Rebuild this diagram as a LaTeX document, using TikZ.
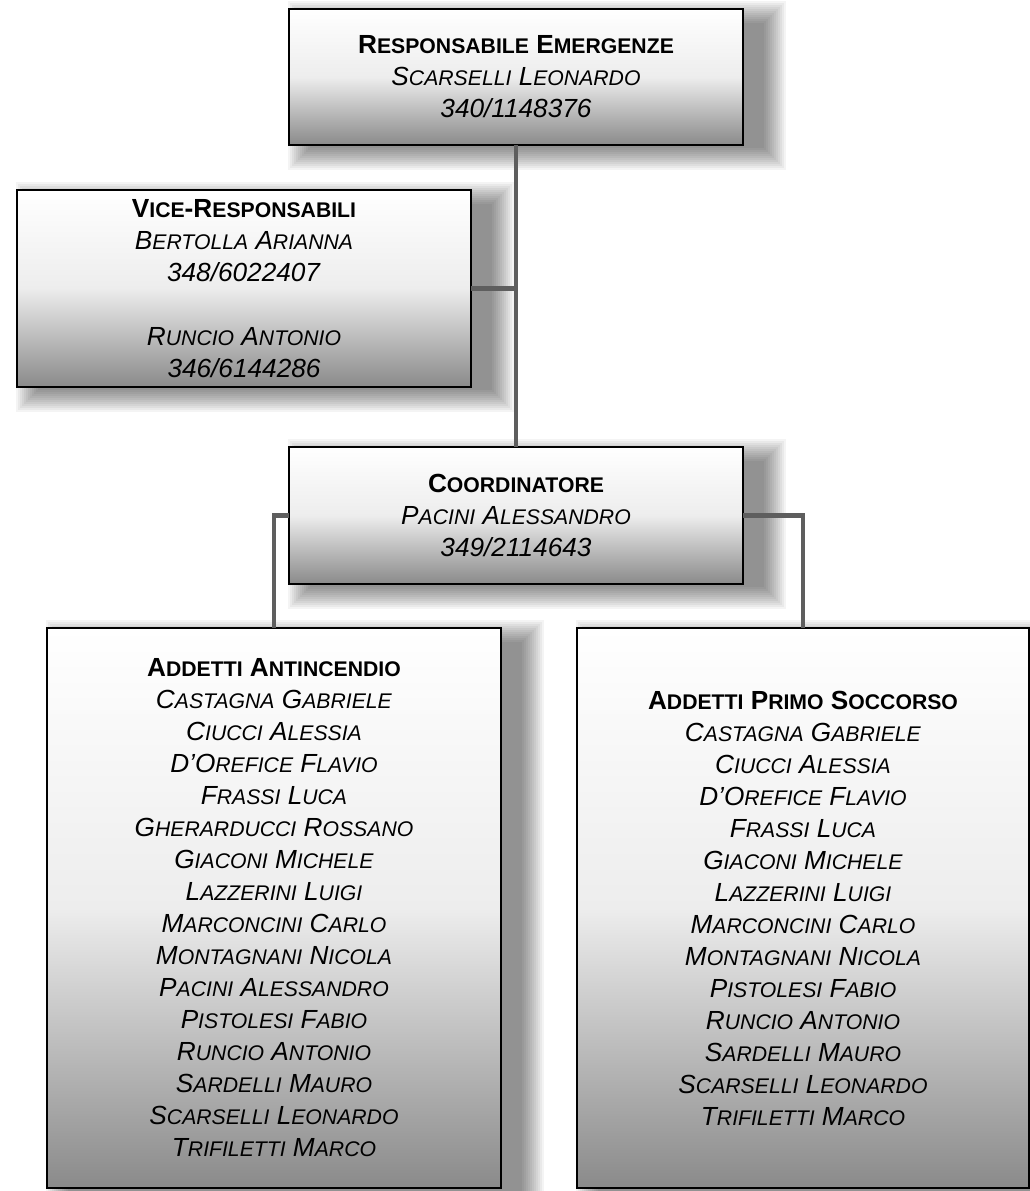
\documentclass[tikz,border=0pt]{standalone}
\usepackage{fontspec}
\setmainfont{Liberation Sans}
\definecolor{boxgray}{HTML}{8A8A8A}
\definecolor{boxmid}{HTML}{EDEDED}
\definecolor{linkgray}{HTML}{5E5E5E}
\pgfdeclarelayer{paper}
\pgfdeclarelayer{shade}
\pgfsetlayers{paper,shade,main}
\newcommand\sk[1]{{\fontsize{21.2pt}{32pt}\selectfont #1}}
\newcommand\nm[4]{\textit{#1\sk{#2} #3\sk{#4}}}
\newcommand\dropshadow[1]{%
  \foreach \k in {0,...,11}{%
    \pgfmathsetmacro\shE{12-24*(\k+0.5)/12}%
    \pgfmathsetmacro\shA{10-\shE}%
    \pgfmathsetmacro\shB{3-\shE}%
    \pgfmathsetmacro\shC{32+\shE}%
    \pgfmathsetmacro\shD{14+\shE}%
    \fill[shadowlayer] ([shift={(\shA,\shB)}]#1.north west) rectangle ([shift={(\shC,\shD)}]#1.south east);
  }}
\tikzset{
  orgbox/.style={rectangle, draw=black, line width=1.8pt, inner sep=0pt, outer sep=0pt,
    top color=white, bottom color=boxgray, middle color=boxmid},
  shadowlayer/.style={black, opacity=0.042},
  boxtext/.style={align=center, inner sep=0pt, text=black,
    font=\fontsize{26.2pt}{32pt}\selectfont},
  link/.style={draw=linkgray, line width=4.5pt}
}
\begin{document}
\begin{tikzpicture}[x=1pt,y=-1pt]
\begin{pgfonlayer}{paper}
\fill[white] (0,0) rectangle (1030,1191);
\end{pgfonlayer}
\useasboundingbox (0,0) rectangle (1030,1191);

% boxes
\node[orgbox, minimum width=454pt, minimum height=136pt] (top) at (516,77) {};
\node[orgbox, minimum width=454pt, minimum height=197pt] (vice) at (244,288.5) {};
\node[orgbox, minimum width=454pt, minimum height=137pt] (coord) at (516,515.5) {};
\node[orgbox, minimum width=454pt, minimum height=560pt] (left) at (274,908) {};
\node[orgbox, minimum width=452pt, minimum height=560pt] (right) at (803,908) {};

% shadows
\begin{pgfonlayer}{shade}
\dropshadow{top}
\dropshadow{vice}
\dropshadow{coord}
\dropshadow{left}
\dropshadow{right}
\end{pgfonlayer}

% connectors
\draw[link] (top.south) -- (coord.north);
\draw[link] (vice.east) -- (vice.east -| top.south);
\draw[link] (coord.west) -| (left.north);
\draw[link] (coord.east) -| (right.north);

% texts
\node[boxtext] (topT) at (top.center) {%
  \textbf{R\sk{ESPONSABILE} E\sk{MERGENZE}}\\
  \nm{S}{CARSELLI}{L}{EONARDO}\\
  \textit{340/1148376}};
\node[boxtext] (viceT) at (vice.center) {%
  \textbf{V\sk{ICE}-R\sk{ESPONSABILI}}\\
  \nm{B}{ERTOLLA}{A}{RIANNA}\\
  \textit{348/6022407}\\[32pt]
  \nm{R}{UNCIO}{A}{NTONIO}\\
  \textit{346/6144286}};
\node[boxtext] (coordT) at (coord.center) {%
  \textbf{C\sk{OORDINATORE}}\\
  \nm{P}{ACINI}{A}{LESSANDRO}\\
  \textit{349/2114643}};
\node[boxtext] (leftT) at (left.center) {%
  \textbf{A\sk{DDETTI} A\sk{NTINCENDIO}}\\
  \nm{C}{ASTAGNA}{G}{ABRIELE}\\
  \nm{C}{IUCCI}{A}{LESSIA}\\
  \nm{D’O}{REFICE}{F}{LAVIO}\\
  \nm{F}{RASSI}{L}{UCA}\\
  \nm{G}{HERARDUCCI}{R}{OSSANO}\\
  \nm{G}{IACONI}{M}{ICHELE}\\
  \nm{L}{AZZERINI}{L}{UIGI}\\
  \nm{M}{ARCONCINI}{C}{ARLO}\\
  \nm{M}{ONTAGNANI}{N}{ICOLA}\\
  \nm{P}{ACINI}{A}{LESSANDRO}\\
  \nm{P}{ISTOLESI}{F}{ABIO}\\
  \nm{R}{UNCIO}{A}{NTONIO}\\
  \nm{S}{ARDELLI}{M}{AURO}\\
  \nm{S}{CARSELLI}{L}{EONARDO}\\
  \nm{T}{RIFILETTI}{M}{ARCO}};
\node[boxtext] (rightT) at (right.center) {%
  \textbf{A\sk{DDETTI} P\sk{RIMO} S\sk{OCCORSO}}\\
  \nm{C}{ASTAGNA}{G}{ABRIELE}\\
  \nm{C}{IUCCI}{A}{LESSIA}\\
  \nm{D’O}{REFICE}{F}{LAVIO}\\
  \nm{F}{RASSI}{L}{UCA}\\
  \nm{G}{IACONI}{M}{ICHELE}\\
  \nm{L}{AZZERINI}{L}{UIGI}\\
  \nm{M}{ARCONCINI}{C}{ARLO}\\
  \nm{M}{ONTAGNANI}{N}{ICOLA}\\
  \nm{P}{ISTOLESI}{F}{ABIO}\\
  \nm{R}{UNCIO}{A}{NTONIO}\\
  \nm{S}{ARDELLI}{M}{AURO}\\
  \nm{S}{CARSELLI}{L}{EONARDO}\\
  \nm{T}{RIFILETTI}{M}{ARCO}};
\end{tikzpicture}
\end{document}
